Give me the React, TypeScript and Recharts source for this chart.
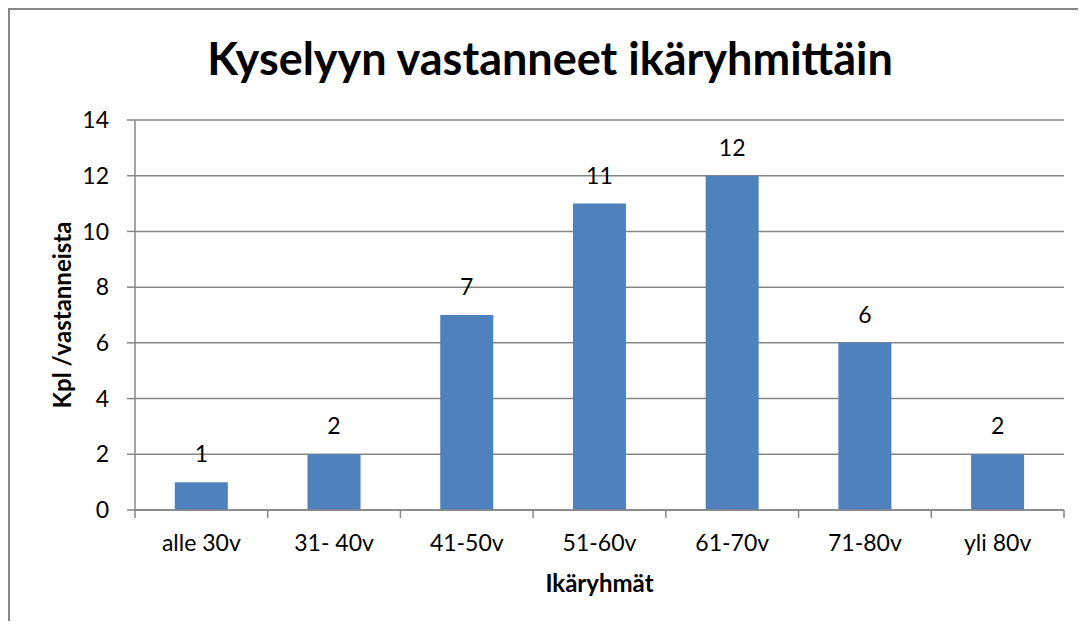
import { BarChart, Bar, XAxis, YAxis, CartesianGrid, LabelList, Label } from "recharts"

const categories = ["alle 30v", "31- 40v", "41-50v", "51-60v", "61-70v", "71-80v", "yli 80v"]
const respondents = [1, 2, 7, 11, 12, 6, 2]
const yTicks = [0, 2, 4, 6, 8, 10, 12, 14]

const data = categories.map((name, i) => ({ name, value: respondents[i] }))

const FONT = "Lato, 'Open Sans', sans-serif"
const GRID = "#868686"
const BAR = "#4F81BD"
const TICK_GAP = 25 // distance from axis line to label top

// Excel puts the x tick marks between categories, so draw them from the band edges
function CategoryTick(props: any) {
  const { x, y, payload, index, visibleTicksCount } = props
  const half = payload.offset || 0
  const axisY = y - TICK_GAP
  const isLast = index === visibleTicksCount - 1
  return (
    <g>
      <line x1={x - half} x2={x - half} y1={axisY} y2={axisY + 8} stroke={GRID} strokeWidth={1.5} />
      {isLast && <line x1={x + half} x2={x + half} y1={axisY} y2={axisY + 8} stroke={GRID} strokeWidth={1.5} />}
      <text x={x} y={y} dy="0.71em" textAnchor="middle" fill="#000" fontSize={23} fontFamily={FONT}>
        {payload.value}
      </text>
    </g>
  )
}

export default function App() {
  return (
    <div
      style={{
        position: "relative",
        width: 1070,
        height: 611,
        borderLeft: `2px solid ${GRID}`,
        borderTop: `2px solid ${GRID}`,
        fontFamily: FONT,
        background: "#fff",
      }}
    >
      <div
        style={{
          position: "absolute",
          left: 0,
          top: 21,
          width: 1080,
          textAlign: "center",
          fontSize: 45,
          fontWeight: 700,
          color: "#000",
        }}
      >
        Kyselyyn vastanneet ikäryhmittäin
      </div>
      <BarChart
        width={1070}
        height={611}
        data={data}
        margin={{ top: 110, right: 16, left: 0, bottom: 71 }}
        barCategoryGap="30%"
      >
        <CartesianGrid vertical={false} stroke={GRID} strokeWidth={1.5} />
        <XAxis
          dataKey="name"
          height={40}
          stroke={GRID}
          strokeWidth={1.5}
          tickLine={false}
          tickSize={0}
          tickMargin={TICK_GAP}
          tick={<CategoryTick />}
          interval={0}
        >
          <Label
            value="Ikäryhmät"
            position="insideBottom"
            offset={-42}
            style={{ fontSize: 24, fontWeight: 700, fill: "#000", fontFamily: FONT }}
          />
        </XAxis>
        <YAxis
          width={125}
          domain={[0, 14]}
          ticks={yTicks}
          interval={0}
          tickSize={8}
          tickMargin={18}
          stroke={GRID}
          strokeWidth={1.5}
          tick={{ fill: "#000", fontSize: 23, fontFamily: FONT }}
        >
          <Label
            value="Kpl /vastanneista"
            angle={-90}
            position="insideLeft"
            offset={52}
            style={{ textAnchor: "middle", fontSize: 24, fontWeight: 700, fill: "#000", fontFamily: FONT }}
          />
        </YAxis>
        <Bar dataKey="value" fill={BAR} isAnimationActive={false}>
          <LabelList
            dataKey="value"
            position="top"
            offset={20}
            style={{ fill: "#000", fontSize: 23, fontFamily: FONT }}
          />
        </Bar>
      </BarChart>
    </div>
  )
}
